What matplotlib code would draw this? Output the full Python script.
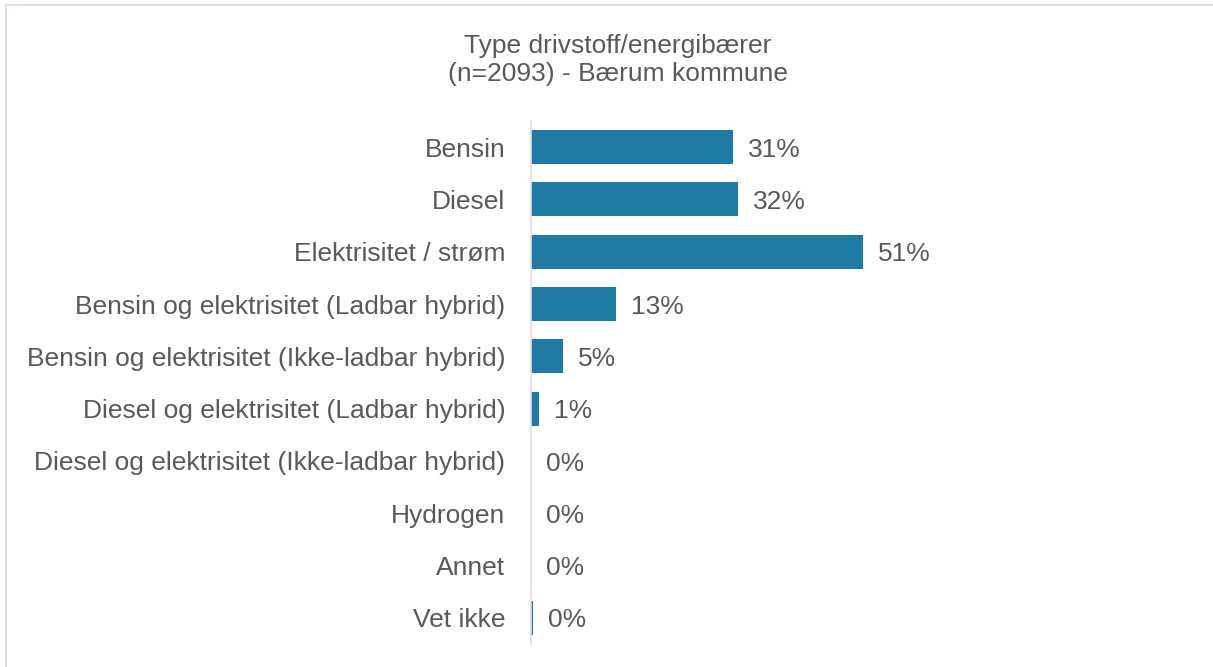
import matplotlib
matplotlib.use("Agg")
import matplotlib.pyplot as plt
from matplotlib.patches import Rectangle

categories = [
    "Bensin",
    "Diesel",
    "Elektrisitet / strøm",
    "Bensin og elektrisitet (Ladbar hybrid)",
    "Bensin og elektrisitet (Ikke-ladbar hybrid)",
    "Diesel og elektrisitet (Ladbar hybrid)",
    "Diesel og elektrisitet (Ikke-ladbar hybrid)",
    "Hydrogen",
    "Annet",
    "Vet ikke",
]
values = [31.0, 31.8, 51.0, 13.1, 4.9, 1.2, 0.0, 0.0, 0.0, 0.3]
labels = ["31%", "32%", "51%", "13%", "5%", "1%", "0%", "0%", "0%", "0%"]
title = "Type drivstoff/energibærer\n(n=2093) - Bærum kommune"

plt.rcParams['font.family'] = ['Liberation Sans', 'DejaVu Sans']
W, H = 1213, 667
fig = plt.figure(figsize=(W / 100, H / 100), dpi=100)

# outer border
fig.patches.append(Rectangle((6 / W, -0.01), 1.2, 1 - 5 / H + 0.01, transform=fig.transFigure,
                             fill=False, edgecolor="#EAD9DE", linewidth=1.5))

left, right = 531, 1182
top, bottom = 121, 644
ax = fig.add_axes([left / W, 1 - bottom / H, (right - left) / W, (bottom - top) / H])

text_color = "#595959"
bar_color = "#1F7BA3"
fs = 19
y = list(range(len(categories)))
ax.barh(y, values, height=0.65, color=bar_color)
ax.set_xlim(0, 100)
ax.set_ylim(len(categories) - 0.5, -0.5)
ax.set_yticks(y)
ax.set_yticklabels(categories, fontsize=fs, color=text_color)
ax.tick_params(axis='y', length=0, pad=18.5)
ax.set_xticks([])
for s in ["top", "right", "bottom"]:
    ax.spines[s].set_visible(False)
ax.spines["left"].set_color("#E6D9DD")
ax.spines["left"].set_linewidth(1.2)

for yi, v, lab in zip(y, values, labels):
    ax.text(v + 2.3, yi + 0.05, lab, va="center", ha="left", fontsize=fs, color=text_color)

fig.text(618 / W, 1 - 60 / H, title, ha="center", va="center", fontsize=fs,
         color=text_color, linespacing=1.2)

fig.savefig("out.png", dpi=100)
